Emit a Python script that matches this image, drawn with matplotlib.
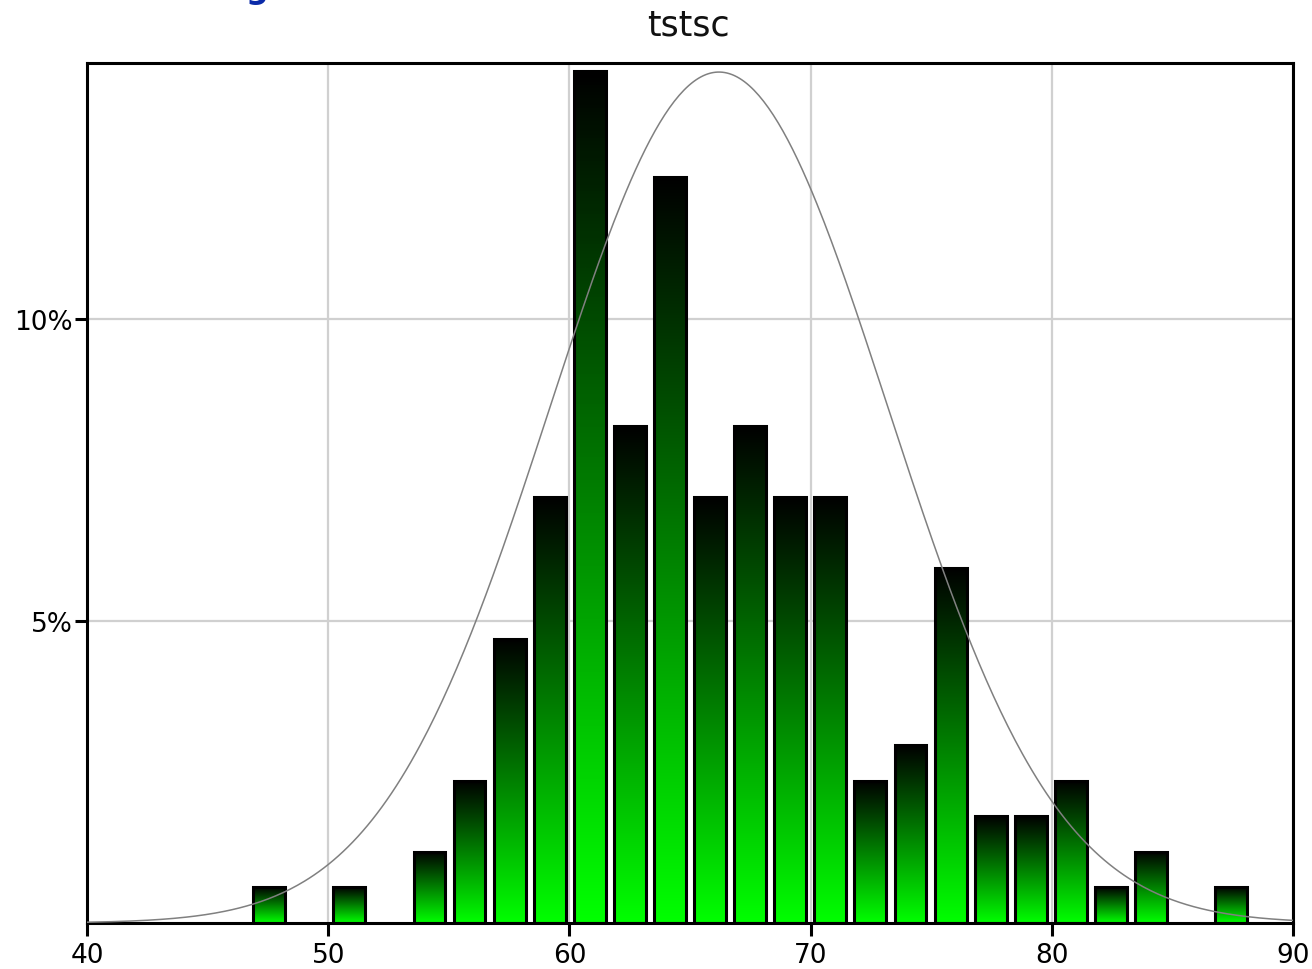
import matplotlib
matplotlib.use("Agg")
import matplotlib.pyplot as plt
import numpy as np
from matplotlib.colors import LinearSegmentedColormap

# histogram bins (centres) and counts per bin
bin_centers = [47.55, 49.21, 50.87, 52.53, 54.20, 55.86, 57.52, 59.18, 60.85,
               62.51, 64.17, 65.83, 67.50, 69.16, 70.82, 72.48, 74.14, 75.81,
               77.47, 79.13, 80.79, 82.46, 84.12, 85.78, 87.44]
counts = [1, 0, 1, 0, 2, 4, 8, 12, 24, 14, 21, 12, 14, 12, 12, 4, 5, 10,
          3, 3, 4, 1, 2, 0, 1]

# fitted normal curve drawn over the bars
curve_mean = 66.2
curve_sd = 7.0
curve_peak = 14.1

x_ticks = [40, 50, 60, 70, 80, 90]
y_ticks = [5, 10]
y_tick_labels = ["5%", "10%"]
chart_title = "tstsc"
head_title = "Histogram"

centers = np.array(bin_centers)
pct = np.array(counts) / np.sum(counts) * 100

fig = plt.figure(figsize=(13.12, 9.70), dpi=100)
ax = fig.add_axes([87 / 1312, 1 - 924 / 970, (1293 - 87) / 1312, (924 - 64) / 970])

# grid
ax.set_xticks(x_ticks)
ax.set_yticks(y_ticks)
ax.set_yticklabels(y_tick_labels)
ax.grid(True, color="#d0d0d0", linewidth=1.6, zorder=0)
ax.set_axisbelow(True)

# bars with black-to-green gradient, each bar on its own height
cmap = LinearSegmentedColormap.from_list("g", ["#00ff00", "#000000"])
grad = np.linspace(0, 1, 256).reshape(-1, 1)
width = 1.32
for c, h in zip(centers, pct):
    if h <= 0:
        continue
    ax.imshow(grad, cmap=cmap, extent=[c - width / 2, c + width / 2, 0, h],
              origin="lower", aspect="auto", interpolation="bilinear", zorder=2)
ax.bar(centers[pct > 0], pct[pct > 0], width=width, fill=False,
       edgecolor="black", linewidth=2.2, zorder=3)

# normal curve
xs = np.linspace(40, 90, 500)
ys = curve_peak * np.exp(-0.5 * ((xs - curve_mean) / curve_sd) ** 2)
ax.plot(xs, ys, color="#808080", linewidth=1.1, zorder=4)

ax.set_xlim(40, 90)
ax.set_ylim(0, 14.25)

for s in ax.spines.values():
    s.set_linewidth(2.2)
    s.set_color("black")
ax.tick_params(axis="both", direction="out", length=9, width=2.2,
               labelsize=19, colors="black")
ax.tick_params(axis="x", pad=5)
ax.tick_params(axis="y", pad=1)

fig.text(688 / 1312, 1 - 35 / 970, chart_title, fontsize=25, color="#111111",
         ha="center", va="baseline")
# page heading above the chart, only its descender shows at the top edge
fig.text(152 / 1312, 1 + 2 / 970, head_title, color="#0a2aa8",
         fontsize=23, fontweight="bold", ha="left", va="baseline")

fig.savefig("out.png", dpi=100)
